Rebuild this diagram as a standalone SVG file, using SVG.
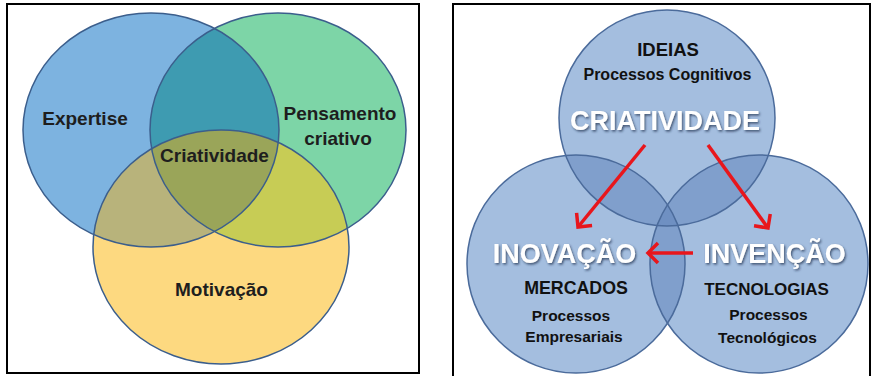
<svg xmlns="http://www.w3.org/2000/svg" xmlns:xlink="http://www.w3.org/1999/xlink" width="873" height="376" viewBox="0 0 873 376">
<style>
.frame{fill:#fff;stroke:#000;stroke-width:2}
.lt{font-family:"Liberation Sans",Arial,sans-serif;font-weight:bold;font-size:19px;fill:#1e1e1e;text-anchor:middle}
.rt{font-family:"Liberation Sans",Arial,sans-serif;font-weight:bold;fill:#111;text-anchor:middle}
.big{font-family:"Liberation Sans",Arial,sans-serif;font-weight:bold;fill:#fff;text-anchor:middle;filter:url(#sh)}
.lo{fill:none;stroke:#3b5e8c;stroke-width:1.5}
.ro{fill:none;stroke:#4b6b9b;stroke-width:1.5}
.arrow{fill:none;stroke:#e8161c;stroke-width:3.5;marker-end:url(#ah)}
</style>
<defs>
<ellipse id="eB" cx="151" cy="130" rx="128" ry="117"/>
<ellipse id="eG" cx="278" cy="130" rx="128" ry="117"/>
<ellipse id="eY" cx="221" cy="247" rx="128" ry="117"/>
<circle id="cT" cx="667" cy="118" r="108"/>
<circle id="cL" cx="576" cy="264" r="109"/>
<circle id="cR" cx="759" cy="264" r="109"/>
<clipPath id="kB"><use xlink:href="#eB"/></clipPath>
<clipPath id="kG"><use xlink:href="#eG"/></clipPath>
<clipPath id="kT"><use xlink:href="#cT"/></clipPath>
<clipPath id="kL"><use xlink:href="#cL"/></clipPath>
<filter id="sh" x="-10%" y="-30%" width="120%" height="160%">
<feDropShadow dx="1.2" dy="1.6" stdDeviation="0.9" flood-color="#203050" flood-opacity="0.75"/>
</filter>
<marker id="ah" markerUnits="userSpaceOnUse" viewBox="-14 -14 16 28" refX="0" refY="0" markerWidth="16" markerHeight="28" orient="auto" overflow="visible">
<path d="M-10,-10 L0,0 L-10,10" fill="none" stroke="#e8161c" stroke-width="3.5"/>
</marker>
</defs>

<rect class="frame" x="7" y="4" width="412" height="369"/>
<rect class="frame" x="453" y="4" width="417" height="380"/>

<!-- Left Venn -->
<g id="expertise">
<use xlink:href="#eB" fill="#7db3e0"/>
</g>
<g id="pensamento-criativo">
<use xlink:href="#eG" fill="#7dd5a7"/>
</g>
<g id="motivacao">
<use xlink:href="#eY" fill="#fdd980"/>
</g>
<g id="overlaps-left">
<use xlink:href="#eG" fill="#3e9bb1" clip-path="url(#kB)"/>
<use xlink:href="#eY" fill="#b8b37b" clip-path="url(#kB)"/>
<use xlink:href="#eY" fill="#c7cc55" clip-path="url(#kG)"/>
<g clip-path="url(#kB)"><use xlink:href="#eY" fill="#9aa559" clip-path="url(#kG)"/></g>
</g>
<g id="outlines-left">
<use xlink:href="#eB" class="lo"/>
<use xlink:href="#eG" class="lo"/>
<use xlink:href="#eY" class="lo"/>
</g>
<g id="labels-left">
<text class="lt" x="85" y="125">Expertise</text>
<text class="lt" x="340" y="120">Pensamento</text>
<text class="lt" x="338" y="145">criativo</text>
</g>
<g id="criatividade">
<text class="lt" x="214.5" y="162">Criatividade</text>
</g>
<g id="motivacao-label">
<text class="lt" x="221.5" y="296">Motivação</text>
</g>

<!-- Right Venn -->
<g id="ideias">
<use xlink:href="#cT" fill="#a4bedf"/>
</g>
<g id="inovacao">
<use xlink:href="#cL" fill="#a4bedf"/>
</g>
<g id="invencao">
<use xlink:href="#cR" fill="#a4bedf"/>
</g>
<g id="overlaps-right">
<use xlink:href="#cL" fill="#809fcc" clip-path="url(#kT)"/>
<use xlink:href="#cR" fill="#809fcc" clip-path="url(#kT)"/>
<use xlink:href="#cR" fill="#809fcc" clip-path="url(#kL)"/>
<g clip-path="url(#kT)"><use xlink:href="#cR" fill="#6f90c2" clip-path="url(#kL)"/></g>
</g>
<g id="outlines-right">
<use xlink:href="#cT" class="ro"/>
<use xlink:href="#cL" class="ro"/>
<use xlink:href="#cR" class="ro"/>
</g>
<g id="ideias-text">
<text class="rt" x="668" y="56" font-size="18.5">IDEIAS</text>
<text class="rt" x="667.5" y="80" font-size="16">Processos Cognitivos</text>
<text class="big" x="665" y="130" font-size="27">CRIATIVIDADE</text>
</g>
<g id="inovacao-text">
<text class="big" x="564.5" y="263" font-size="27">INOVAÇÃO</text>
<text class="rt" x="576" y="294" font-size="17.8">MERCADOS</text>
<text class="rt" x="571" y="321" font-size="15.5">Processos</text>
<text class="rt" x="574" y="342" font-size="15.5">Empresariais</text>
</g>
<g id="invencao-text">
<text class="big" x="774.5" y="263" font-size="27">INVENÇÃO</text>
<text class="rt" x="766.5" y="295" font-size="17">TECNOLOGIAS</text>
<text class="rt" x="768.5" y="320" font-size="15.5">Processos</text>
<text class="rt" x="767.5" y="343" font-size="15.5">Tecnológicos</text>
</g>

<g id="connectors">
<line class="arrow" x1="645" y1="145" x2="578" y2="227"/>
<line class="arrow" x1="708" y1="145" x2="768" y2="228"/>
<line class="arrow" x1="693" y1="253" x2="648" y2="253"/>
</g>
</svg>
